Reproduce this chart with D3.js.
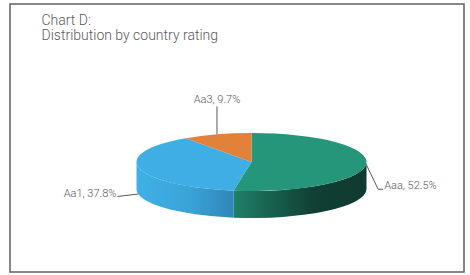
<!DOCTYPE html>
<html>
<head>
<meta charset="utf-8">
<script src="https://cdn.jsdelivr.net/npm/d3@7"></script>
<style>
  html, body { margin: 0; padding: 0; background: #ffffff; }
  svg { display: block; }
  text { font-family: Roboto, "Open Sans", sans-serif; fill: #595959; }
</style>
</head>
<body>
<script>
// ---- data ----
const categories = ["Aaa", "Aa1", "Aa3"];
const shares = [52.5, 37.8, 9.7];
const colors = ["#26967A", "#3EAEE4", "#E2823A"];
const titleLines = ["Chart D:", "Distribution by country rating"];

// ---- layout ----
const W = 470, H = 275;
const cx = 251.5, cy = 162, rx = 115, ry = 29, depth = 27;

const svg = d3.select("body").append("svg").attr("width", W).attr("height", H);
const defs = svg.append("defs");

// frame
svg.append("rect").attr("x", 10).attr("y", 4).attr("width", 454).attr("height", 268)
  .attr("fill", "none").attr("stroke", "#6a6a6a").attr("stroke-width", 1.6);

// title
const title = svg.append("text").attr("x", 41.5).attr("y", 25)
  .style("font-size", "14px").style("font-weight", 300);
titleLines.forEach((t, i) => title.append("tspan").attr("x", 41.5).attr("dy", i === 0 ? 0 : 15).text(t));

// pie layout (angles clockwise from 12 o'clock)
const pie = d3.pie().sort(null).value(d => d.v);
const arcs = pie(categories.map((c, i) => ({ c, v: shares[i], col: colors[i] })));

const px = a => cx + rx * Math.sin(a);
const py = (a, z = 0) => cy - ry * Math.cos(a) + z;

function topPath(a0, a1) {
  const large = (a1 - a0) > Math.PI ? 1 : 0;
  return `M${cx},${cy}L${px(a0)},${py(a0)}A${rx},${ry} 0 ${large} 1 ${px(a1)},${py(a1)}Z`;
}
function sidePath(a0, a1) {
  const large = (a1 - a0) > Math.PI ? 1 : 0;
  return `M${px(a0)},${py(a0)}A${rx},${ry} 0 ${large} 1 ${px(a1)},${py(a1)}` +
         `L${px(a1)},${py(a1, depth)}A${rx},${ry} 0 ${large} 0 ${px(a0)},${py(a0, depth)}Z`;
}

// side gradients
const sideGrads = {
  "Aaa": [["0%", "#1f8068"], ["60%", "#113f33"], ["100%", "#0f3a2f"]],
  "Aa1": [["0%", "#3fb0e6"], ["55%", "#3aa3d8"], ["100%", "#2f86b8"]],
  "Aa3": [["0%", "#b8652b"], ["100%", "#8a4a1e"]]
};

const front0 = Math.PI / 2, front1 = 3 * Math.PI / 2;
const sides = svg.append("g");
arcs.forEach((d, i) => {
  const s0 = Math.max(d.startAngle, front0), s1 = Math.min(d.endAngle, front1);
  if (s1 <= s0) return;
  const gid = "g" + i;
  const g = defs.append("linearGradient").attr("id", gid)
    .attr("gradientUnits", "userSpaceOnUse")
    .attr("x1", Math.min(px(s0), px(s1))).attr("x2", Math.max(px(s0), px(s1)))
    .attr("y1", 0).attr("y2", 0);
  sideGrads[d.data.c].forEach(([o, c]) => g.append("stop").attr("offset", o).attr("stop-color", c));
  sides.append("path").attr("d", sidePath(s0, s1)).attr("fill", `url(#${gid})`);
});

const tops = svg.append("g");
arcs.forEach(d => {
  tops.append("path").attr("d", topPath(d.startAngle, d.endAngle)).attr("fill", d.data.col);
});

// labels with leader lines
const mid = d => (d.startAngle + d.endAngle) / 2;
const lbl = svg.append("g").style("font-size", "11px").style("font-weight", 300);
const lineCol = "#595959";
arcs.forEach(d => {
  const a = mid(d);
  const txt = `${d.data.c}, ${d.data.v}%`;
  if (d.data.c === "Aaa") {
    const x0 = px(a), y0 = py(a);
    const pts = [[x0, y0], [x0 + 12, y0 + 25], [x0 + 17, y0 + 25]];
    lbl.append("path").attr("d", d3.line()(pts)).attr("fill", "none").attr("stroke", lineCol).attr("stroke-width", 1);
    lbl.append("text").attr("x", x0 + 18).attr("y", y0 + 25).text(txt);
  } else if (d.data.c === "Aa1") {
    const x0 = px(a) - 1, y0 = py(a, depth - 1.5);
    const pts = [[x0, y0], [x0 - 21, y0 + 2.5]];
    lbl.append("path").attr("d", d3.line()(pts)).attr("fill", "none").attr("stroke", lineCol).attr("stroke-width", 1);
    lbl.append("text").attr("x", x0 - 22).attr("y", y0 + 3).attr("text-anchor", "end").text(txt);
  } else {
    const x0 = px(a), y0 = py(a);
    const pts = [[x0, y0], [x0, y0 - 28]];
    lbl.append("path").attr("d", d3.line()(pts)).attr("fill", "none").attr("stroke", lineCol).attr("stroke-width", 1);
    lbl.append("text").attr("x", x0).attr("y", y0 - 31).attr("text-anchor", "middle").text(txt);
  }
});
</script>
</body>
</html>
